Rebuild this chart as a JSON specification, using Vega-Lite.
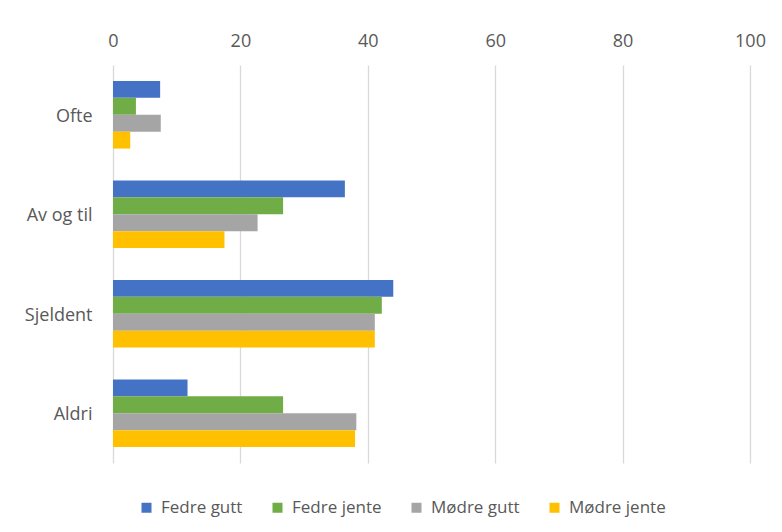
{
  "$schema": "https://vega.github.io/schema/vega-lite/v6.json",
  "width": 637,
  "height": 398,
  "autosize": {"type": "none"},
  "padding": {"left": 113, "top": 65, "right": 32, "bottom": 69},
  "background": "white",
  "config": {
    "view": {"stroke": null},
    "font": "Open Sans",
    "axis": {"labelFont": "Open Sans", "labelColor": "#595959", "labelFontSize": 18},
    "legend": {"labelFont": "Open Sans", "labelColor": "#595959", "labelFontSize": 17}
  },
  "data": {
    "values": [
      {"kategori": "Ofte", "gruppe": "Fedre gutt", "verdi": 7.4},
      {"kategori": "Ofte", "gruppe": "Fedre jente", "verdi": 3.6},
      {"kategori": "Ofte", "gruppe": "Mødre gutt", "verdi": 7.5},
      {"kategori": "Ofte", "gruppe": "Mødre jente", "verdi": 2.7},
      {"kategori": "Av og til", "gruppe": "Fedre gutt", "verdi": 36.4},
      {"kategori": "Av og til", "gruppe": "Fedre jente", "verdi": 26.7},
      {"kategori": "Av og til", "gruppe": "Mødre gutt", "verdi": 22.7},
      {"kategori": "Av og til", "gruppe": "Mødre jente", "verdi": 17.5},
      {"kategori": "Sjeldent", "gruppe": "Fedre gutt", "verdi": 44.0},
      {"kategori": "Sjeldent", "gruppe": "Fedre jente", "verdi": 42.2},
      {"kategori": "Sjeldent", "gruppe": "Mødre gutt", "verdi": 41.1},
      {"kategori": "Sjeldent", "gruppe": "Mødre jente", "verdi": 41.1},
      {"kategori": "Aldri", "gruppe": "Fedre gutt", "verdi": 11.7},
      {"kategori": "Aldri", "gruppe": "Fedre jente", "verdi": 26.7},
      {"kategori": "Aldri", "gruppe": "Mødre gutt", "verdi": 38.2},
      {"kategori": "Aldri", "gruppe": "Mødre jente", "verdi": 38.0}
    ]
  },
  "mark": {"type": "bar"},
  "encoding": {
    "y": {
      "field": "kategori",
      "type": "nominal",
      "sort": ["Ofte", "Av og til", "Sjeldent", "Aldri"],
      "scale": {"paddingInner": 0.32, "paddingOuter": 0.16},
      "axis": {"title": null, "domain": false, "ticks": false, "labelPadding": 21, "labelOffset": 2, "grid": false}
    },
    "x": {
      "field": "verdi",
      "type": "quantitative",
      "scale": {"domain": [0, 100], "nice": false},
      "axis": {
        "orient": "top",
        "title": null,
        "values": [0, 20, 40, 60, 80, 100],
        "domain": false,
        "ticks": false,
        "labelFlush": false,
        "labelPadding": 15,
        "grid": true,
        "gridColor": "#D9D9D9",
        "gridWidth": 1.3
      }
    },
    "yOffset": {
      "field": "gruppe",
      "type": "nominal",
      "sort": ["Fedre gutt", "Fedre jente", "Mødre gutt", "Mødre jente"],
      "scale": {"paddingInner": 0, "paddingOuter": 0}
    },
    "color": {
      "field": "gruppe",
      "type": "nominal",
      "sort": ["Fedre gutt", "Fedre jente", "Mødre gutt", "Mødre jente"],
      "scale": {
        "domain": ["Fedre gutt", "Fedre jente", "Mødre gutt", "Mødre jente"],
        "range": ["#4472C4", "#70AD47", "#A5A5A5", "#FFC000"]
      },
      "legend": {
        "title": null,
        "orient": "none",
        "direction": "horizontal",
        "columns": 4,
        "legendX": 25,
        "legendY": 434,
        "symbolType": "square",
        "symbolSize": 100,
        "symbolStrokeWidth": 0,
        "symbolOffset": 0,
        "labelOffset": 6,
        "columnPadding": 26
      }
    }
  }
}
